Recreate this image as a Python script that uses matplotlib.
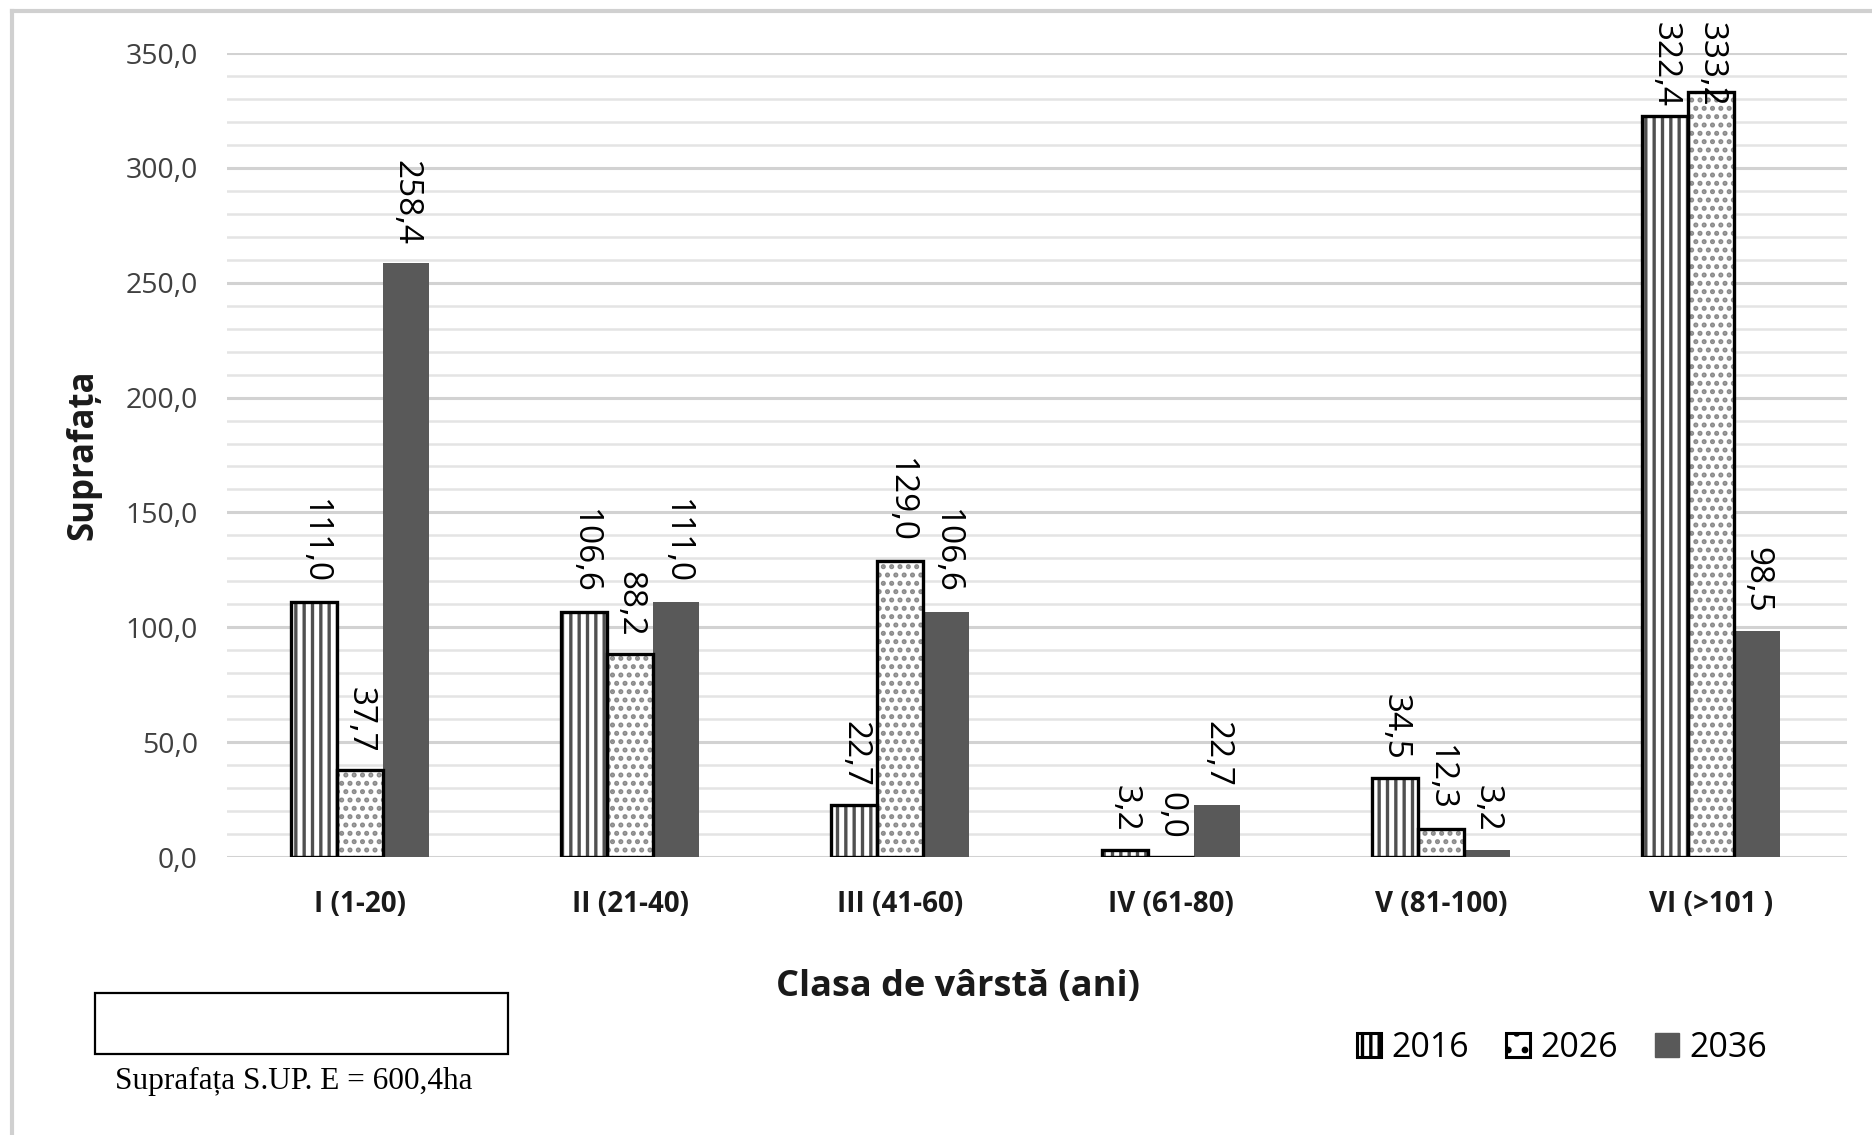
import numpy as np
import matplotlib
matplotlib.use('Agg')
import matplotlib.pyplot as plt
from matplotlib.patches import Patch, Rectangle
from matplotlib.lines import Line2D
from matplotlib.transforms import blended_transform_factory

plt.rcParams['font.family'] = ['Open Sans', 'DejaVu Sans']
plt.rcParams['hatch.linewidth'] = 2.4

# data
classes = ['I (1-20)', 'II (21-40)', 'III (41-60)', 'IV (61-80)', 'V (81-100)', 'VI (>101 )']
years = ['2016', '2026', '2036']
v2016 = [111.0, 106.6, 22.7, 3.2, 34.5, 322.4]
v2026 = [37.7, 88.2, 129.0, 0.0, 12.3, 333.2]
v2036 = [258.4, 111.0, 106.6, 22.7, 3.2, 98.5]
yticks = [0, 50, 100, 150, 200, 250, 300, 350]

W, H = 1872, 1135
fig = plt.figure(figsize=(W / 100, H / 100), dpi=100)
ax = fig.add_axes([227 / W, 1 - 857 / H, 1620 / W, 804 / H])
top_tr = blended_transform_factory(ax.transData, fig.transFigure)

x = np.arange(len(classes))
w = 0.170
series = [v2016, v2026, v2036]
hatches = ['||', '..', None]
hatch_cols = ['#505050', '#8a8a8a', None]
dark = '#595959'

for k, vals in enumerate(series):
    pos = x + (k - 1) * w
    if k < 2:
        # hatched fill in grey, then a black outline on top
        ax.bar(pos, vals, w, color='white', edgecolor=hatch_cols[k], hatch=hatches[k], linewidth=0, zorder=3)
        ax.bar(pos, vals, w, fill=False, edgecolor='black', linewidth=2.4, zorder=4)
    else:
        ax.bar(pos, vals, w, color=dark, linewidth=0, zorder=3)
    for xi, v in zip(pos, vals):
        lab = f'{v:.1f}'.replace('.', ',')
        if v > 300:
            # label would run off the top, keep it inside the chart area
            ax.text(xi, 1 - 22 / H, lab, transform=top_tr, rotation=-90, ha='center', va='top',
                    fontsize=24, color='black', zorder=5)
        else:
            ax.annotate(lab, (xi, v), xytext=(0, 13), textcoords='offset points',
                        rotation=-90, ha='center', va='bottom', fontsize=24, color='black',
                        annotation_clip=False, zorder=5)

ax.set_xlim(-0.492, 5.503)
ax.set_ylim(0, 350)
ax.set_yticks(yticks)
ax.set_yticklabels([f'{t:.1f}'.replace('.', ',') for t in yticks], fontsize=20.5, color='#404040')
ax.set_yticks(np.arange(0, 351, 10), minor=True)
ax.set_xticks(x)
ax.set_xticklabels(classes, fontsize=20, fontweight='bold', color='#1a1a1a')
ax.tick_params(axis='both', which='both', length=0)
ax.tick_params(axis='y', pad=21)
ax.tick_params(axis='x', pad=24)
ax.grid(axis='y', which='major', color='#d2d2d2', linewidth=2.2, zorder=0)
ax.grid(axis='y', which='minor', color='#e4e4e4', linewidth=1.8, zorder=0)
for s in ax.spines.values():
    s.set_visible(False)

ax.set_ylabel('Suprafața', fontsize=25, fontweight='bold', color='#1a1a1a', labelpad=17)

fig.text(958 / W, 1 - 987 / H, 'Clasa de vârstă (ani)', fontsize=26, fontweight='bold', color='#1a1a1a',
         ha='center', va='center')

handles = [Patch(facecolor='white', edgecolor='black', hatch='||', linewidth=2.2),
           Patch(facecolor='white', edgecolor='black', hatch='.', linewidth=2.2),
           Patch(facecolor=dark, edgecolor=dark)]
fig.legend(handles, years, loc='center', bbox_to_anchor=(1562 / W, 1 - 1048 / H), ncol=3, frameon=False,
           fontsize=24.5, handlelength=0.7, handleheight=0.7, handletextpad=0.3, columnspacing=1.1)

# empty box and note at bottom left
fig.add_artist(Rectangle((95 / W, 1 - 1054 / H), 413 / W, 61 / H, transform=fig.transFigure,
                         fill=False, edgecolor='black', linewidth=1.6))
fig.text(115 / W, 1 - 1081 / H, 'Suprafața S.UP. E = 600,4ha', fontsize=22.5,
         family=['Liberation Serif', 'DejaVu Serif'], va='center', ha='left')

# outer chart frame
fig.add_artist(Line2D([12 / W, 12 / W], [0, 1 - 11 / H], transform=fig.transFigure,
                      color='#d0d0d0', linewidth=3))
fig.add_artist(Line2D([12 / W, 1], [1 - 11 / H, 1 - 11 / H], transform=fig.transFigure,
                      color='#d0d0d0', linewidth=3))

fig.savefig('out.png', dpi=100)
